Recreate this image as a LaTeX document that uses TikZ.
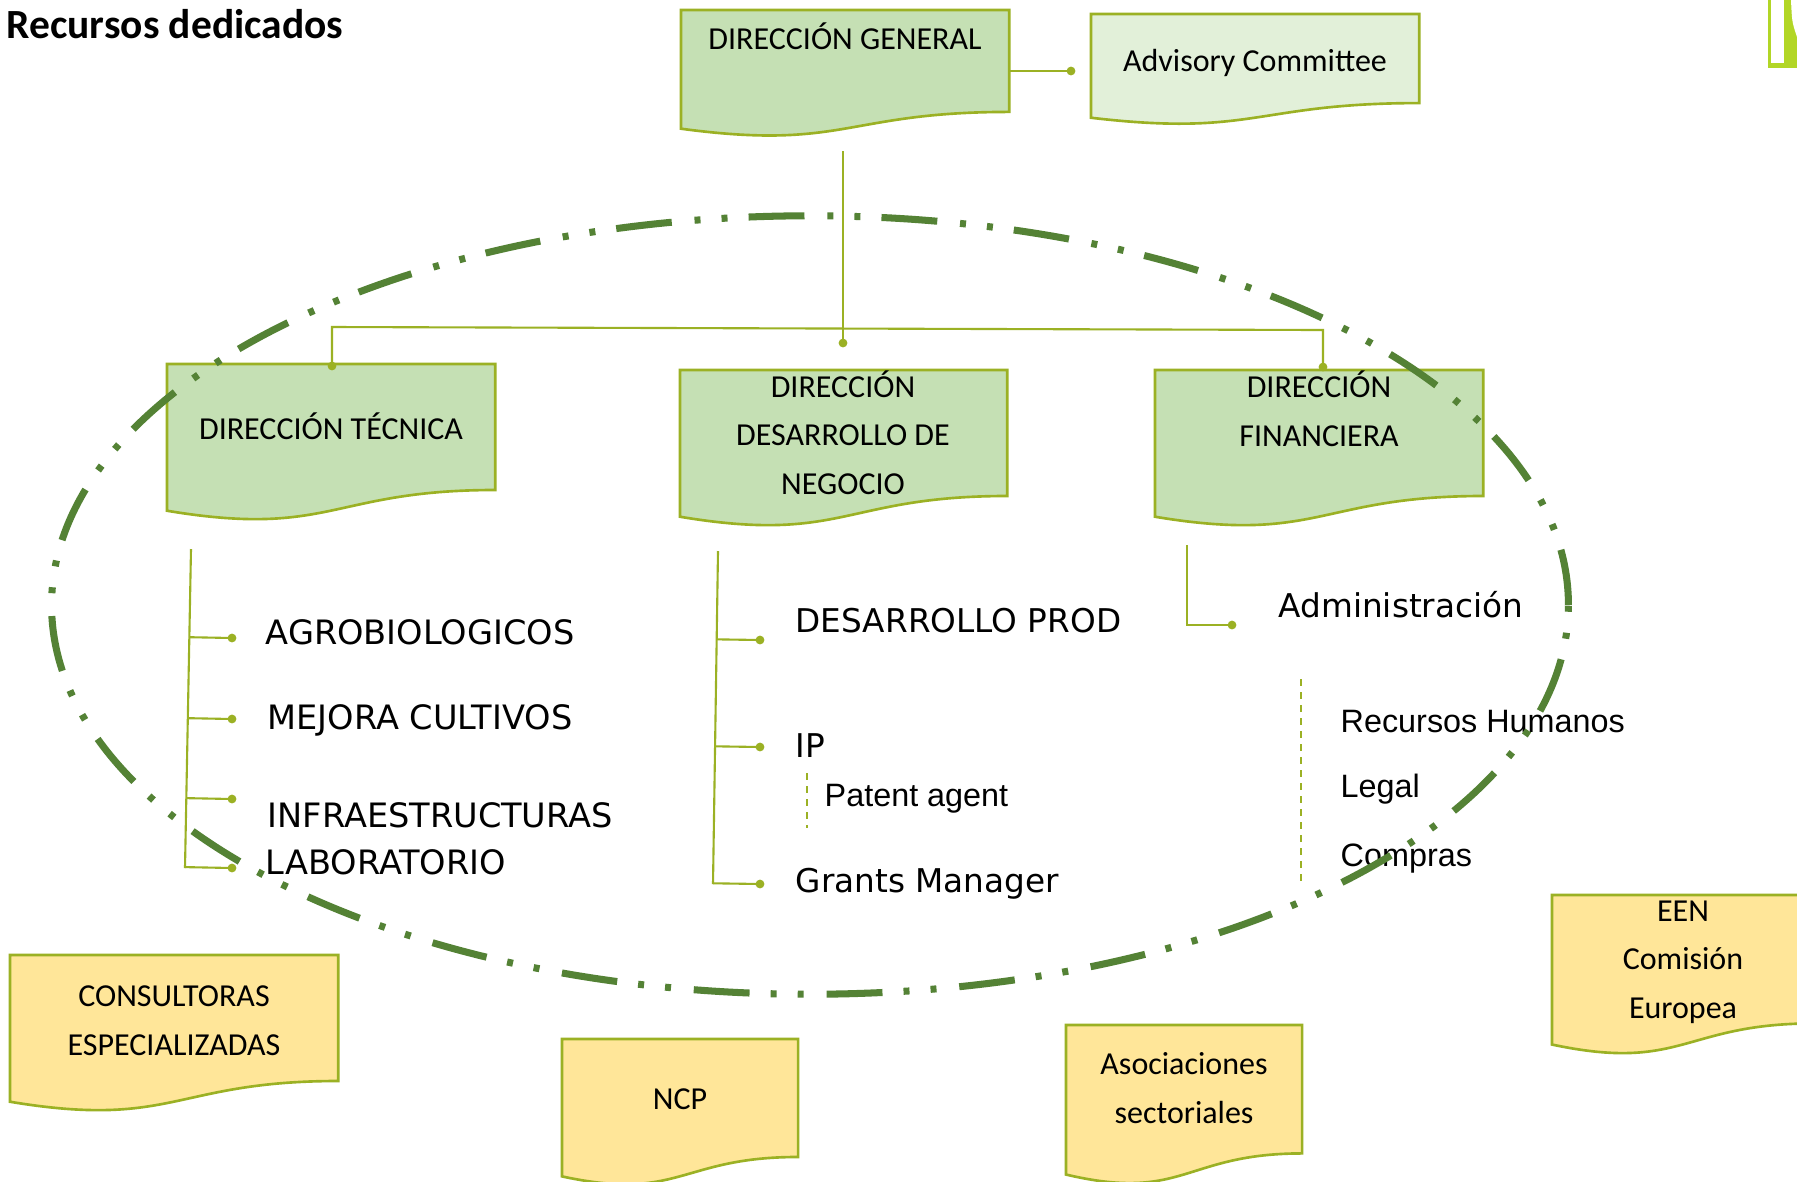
\documentclass[tikz,border=0pt]{standalone}
\usepackage{fontspec}
\setmainfont{Carlito}
\newfontfamily\verdfont{DejaVu Sans}
\newfontfamily\arialfont{Liberation Sans}
\usetikzlibrary{calc}
\definecolor{lineolive}{RGB}{155,177,36}
\definecolor{boxgreen}{RGB}{197,224,180}
\definecolor{boxlightgreen}{RGB}{226,240,217}
\definecolor{boxyellow}{RGB}{255,230,153}
\definecolor{ringgreen}{RGB}{84,130,53}
\definecolor{limegreen}{RGB}{178,214,38}
\newcommand\docbox[6]{%
  \node[boxarea, anchor=north west, minimum width={#4*0.28453pt}, minimum height={0.802*#5*0.28453pt}] (#1) at (#2,#3) {};
  \path[docshape, fill=#6] (#1.north west) -- (#1.north east) -- (#1.south east)
    .. controls (#1.south) and ([yshift={-0.306*#5*0.28453pt}]#1.south) .. ([yshift={-0.132*#5*0.28453pt}]#1.south west) -- cycle;
}
\begin{document}
\begin{tikzpicture}[x=0.01cm, y=-0.01cm,
  boxarea/.style={rectangle, inner sep=0pt, outer sep=0pt},
  docshape/.style={draw=lineolive, line width=0.75pt},
  boxtext/.style={font=\fontsize{9.1}{13.66}\selectfont, align=center, inner sep=0pt, anchor=base},
  conn/.style={draw=lineolive, line width=0.6pt},
  dotnode/.style={circle, fill=lineolive, inner sep=0pt, minimum size=2.5pt},
  listtext/.style={font=\verdfont\fontsize{9.3}{11}\selectfont, inner sep=0pt, anchor=base west},
  capstext/.style={font=\verdfont\fontsize{9.55}{11}\selectfont, inner sep=0pt, anchor=base west},
  subtext/.style={font=\arialfont\fontsize{9.2}{11}\selectfont, inner sep=0pt, anchor=base west},
  dashconn/.style={draw=lineolive, line width=0.45pt, dash pattern=on 2pt off 1.7pt},
  ringline/.style={draw=ringgreen, line width=2pt, dash pattern=on 15.9pt off 6pt on 1.7pt off 6pt on 1.7pt off 6.5pt}
]
\useasboundingbox (0,0) rectangle (1797,1181);
\clip (0,0) rectangle (1797,1181);
\fill[white] (0,0) rectangle (1797,1181);

% title
\node[font=\bfseries\fontsize{11.8}{14}\selectfont, anchor=base west, inner sep=0pt] (title) at (6,38) {Recursos dedicados};

% boxes
\docbox{dg}{681}{10}{328}{127}{boxgreen}
\docbox{adv}{1091}{14}{328}{111}{boxlightgreen}
\docbox{dt}{167}{364}{328}{157}{boxgreen}
\docbox{ddn}{680}{370}{327}{157}{boxgreen}
\docbox{df}{1155}{370}{328}{157}{boxgreen}
\docbox{cons}{10}{955}{328}{157}{boxyellow}
\docbox{ncp}{562}{1039}{236}{147}{boxyellow}
\docbox{asoc}{1066}{1025}{236}{160}{boxyellow}
\docbox{een}{1552}{895}{262}{160}{boxyellow}

% multi-line texts: anchor base = baseline of the last line
\node[boxtext] (dgt) at (845,49) {DIRECCIÓN GENERAL};
\node[boxtext] (advt) at (1255,71) {Advisory Committee};
\node[boxtext] (dtt) at (331,439) {DIRECCIÓN TÉCNICA};
\node[boxtext] (ddnt) at (843,494) {DIRECCIÓN\\DESARROLLO DE\\NEGOCIO};
\node[boxtext] (dft) at (1319,446) {DIRECCIÓN\\FINANCIERA};
\node[boxtext] (const) at (174,1055) {CONSULTORAS\\ESPECIALIZADAS};
\node[boxtext] (ncpt) at (680,1109) {NCP};
\node[boxtext] (asoct) at (1184,1123) {Asociaciones\\sectoriales};
\node[boxtext] (eent) at (1683,1018) {EEN\\Comisión\\Europea};

% list texts
\node[capstext] (agro) at (265,644) {AGROBIOLOGICOS};
\node[capstext] (mejora) at (267,729) {MEJORA CULTIVOS};
\node[capstext] (infra) at (267,827) {INFRAESTRUCTURAS};
\node[capstext] (lab) at (265,874) {LABORATORIO};
\node[listtext] (desprod) at (795,632) {DESARROLLO PROD};
\node[listtext] (ip) at (795,757) {IP};
\node[subtext] (patent) at (824,806) {Patent agent};
\node[listtext] (grants) at (795,892) {Grants Manager};
\node[listtext] (admin) at (1278,617) {Administración};
\node[subtext] (rrhh) at (1340,732) {Recursos Humanos};
\node[subtext] (legal) at (1340,797) {Legal};
\node[subtext] (compras) at (1340,866) {Compras};

% dashed ring
\draw[ringline] (810,605) ellipse [x radius=7.58cm, y radius=3.89cm];

% connectors
\node[dotnode] (dgdot) at (1071,71) {};
\draw[conn] (dg.east |- dgdot) -- (dgdot.center);
\coordinate (dgstem) at (843,151);
\node[dotnode] (ddndot) at (843,343) {};
\draw[conn] (dgstem) -- (ddndot.center);
\node[dotnode] (dtdot) at (332,366) {};
\node[dotnode] (dfdot) at (1323,367) {};
\coordinate (barl) at (332,327);
\coordinate (barr) at (1323,330);
\draw[conn] (dtdot.center) -- (barl) -- (barr) -- (dfdot.center);

% left list
\coordinate (ltop) at (191,549);
\coordinate (lbot) at (185,868);
\draw[conn] (ltop) -- (lbot);
\node[dotnode] (la) at (232,638) {};
\node[dotnode] (lb) at (232,719) {};
\node[dotnode] (lc) at (232,799) {};
\node[dotnode] (ld) at (232,868) {};
\foreach \d in {la,lb,lc,ld}{\draw[conn] ($(ltop)!(\d)!(lbot)$) -- (\d.center);}

% middle list
\coordinate (mtop) at (718,551);
\coordinate (mbot) at (713,884);
\draw[conn] (mtop) -- (mbot);
\node[dotnode] (ma) at (760,640) {};
\node[dotnode] (mb) at (760,747) {};
\node[dotnode] (mc) at (760,884) {};
\foreach \d in {ma,mb,mc}{\draw[conn] ($(mtop)!(\d)!(mbot)$) -- (\d.center);}
\coordinate (pa1) at (807,773);
\coordinate (pa2) at (807,828);
\draw[dashconn] (pa1) -- (pa2);

% right list
\coordinate (rtop) at (1187,545);
\node[dotnode] (ra) at (1232,625) {};
\draw[conn] (rtop) |- (ra.center);
\coordinate (rd1) at (1301,679);
\coordinate (rd2) at (1301,885);
\draw[dashconn] (rd1) -- (rd2);

% top right decoration
\fill[limegreen] (1768,0) rectangle (1797,68);
\fill[white] (1771,0) rectangle (1784,63);
\fill[white] (1791,0) .. controls (1792,22) .. (1797,37) -- (1797,0) -- cycle;
\end{tikzpicture}
\end{document}
